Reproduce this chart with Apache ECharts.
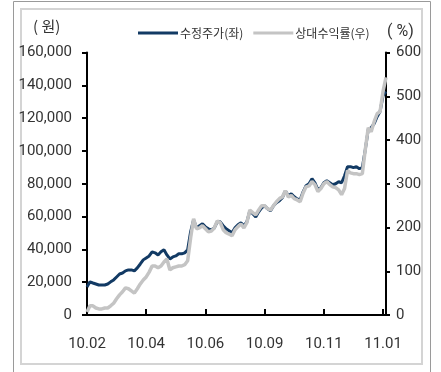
<!DOCTYPE html>
<html>
<head>
<meta charset="utf-8">
<script src="https://cdn.jsdelivr.net/npm/echarts@6/dist/echarts.min.js"></script>
<style>
  html, body { margin: 0; padding: 0; background: #fff; }
  #chart { width: 441px; height: 372px; }
</style>
</head>
<body>
<div id="chart"></div>
<script>
// Tick labels placed every 20 trading-day samples along the category axis
const tickLabels = ['10.02', '10.04', '10.06', '10.09', '10.11', '11.01'];
const tickStep = 20;

// Adjusted share price (KRW), left axis
const priceValues = [
  17100, 20200, 19500, 18900, 18300, 18300, 18300, 18900, 20200, 21400,
  23200, 25000, 25600, 26900, 27500, 27500, 26900, 28700, 31100, 33600,
  34800, 36000, 38500, 37900, 36600, 38500, 39700, 36600, 34200, 35400,
  36000, 37300, 37300, 37900, 39700, 50700, 58000, 53100, 54400, 55600,
  53700, 52500, 51900, 53100, 56800, 56800, 54400, 52500, 51300, 50100,
  53100, 55000, 56200, 54400, 56800, 63500, 61700, 59800, 62900, 65300,
  66600, 64700, 63500, 66600, 68400, 69600, 71500, 75700, 72700, 73900,
  72100, 70800, 70200, 75100, 78800, 80000, 83100, 80600, 76300, 77600,
  80600, 81800, 80600, 79400, 80000, 81200, 80600, 84900, 90400, 90400,
  89800, 90400, 89200, 89800, 100800, 113000, 114200, 116600, 120900, 124000,
  133700, 136200
];

// Relative return (%), right axis
const relativeReturn = [
  7, 21, 21, 16, 14, 14, 16, 16, 21, 27,
  37, 46, 53, 62, 60, 55, 50, 60, 71, 80,
  87, 98, 112, 112, 108, 112, 121, 128, 103, 108,
  110, 112, 112, 115, 124, 176, 220, 197, 199, 204,
  197, 190, 192, 199, 215, 211, 195, 188, 185, 181,
  195, 202, 208, 199, 211, 240, 234, 229, 240, 250,
  250, 243, 240, 250, 259, 266, 270, 284, 270, 273,
  266, 263, 259, 279, 293, 295, 305, 298, 282, 289,
  300, 305, 298, 293, 291, 286, 275, 289, 330, 325,
  323, 323, 321, 323, 378, 428, 419, 442, 460, 465,
  511, 543
];

const seriesNames = ['수정주가(좌)', '상대수익률(우)'];

const categories = priceValues.map((_, i) =>
  i % tickStep === 0 && tickLabels[i / tickStep] ? tickLabels[i / tickStep] : ''
);

const labelFont = '"Liberation Sans Narrow", Roboto, sans-serif';
const textColor = '#333333';

const chart = echarts.init(document.getElementById('chart'), null, { renderer: 'canvas' });

chart.setOption({
  animation: false,
  backgroundColor: '#ffffff',
  graphic: [
    {
      type: 'rect', silent: true,
      shape: { x: 13.5, y: 1.5, width: 417, height: 380 },
      style: { fill: 'none', stroke: '#9a9a9a', lineWidth: 1 }
    },
    {
      type: 'rect', silent: true,
      shape: { x: 21, y: 9, width: 401, height: 355 },
      style: { fill: 'none', stroke: '#d4d4d4', lineWidth: 2 }
    },
    {
      type: 'text', left: 33, top: 19,
      style: { text: '( 원)', font: '15px "Noto Sans CJK KR", sans-serif', fill: textColor }
    },
    {
      type: 'text', left: 387, top: 24,
      style: { text: '( %)', font: '16px ' + labelFont, fill: textColor }
    }
  ],
  legend: {
    left: 133, top: 22,
    itemWidth: 40, itemHeight: 3, itemGap: 10,
    icon: 'rect',
    textStyle: { fontFamily: '"Noto Sans CJK KR", sans-serif', fontSize: 12, color: textColor, padding: [0, 0, 0, -3] },
    data: seriesNames
  },
  grid: { left: 87, right: 55, top: 52.5, bottom: 57, containLabel: false },
  xAxis: {
    type: 'category',
    data: categories,
    boundaryGap: false,
    axisLine: { lineStyle: { color: '#000', width: 2 } },
    axisTick: { interval: tickStep - 1, inside: true, length: 6, lineStyle: { color: '#000', width: 2 } },
    axisLabel: { interval: tickStep - 1, margin: 22, fontFamily: labelFont, fontSize: 15, color: textColor },
    splitLine: { show: false }
  },
  yAxis: [
    {
      type: 'value', min: 0, max: 160000, interval: 20000,
      axisLine: { show: true, lineStyle: { color: '#000', width: 2 } },
      axisTick: { show: true, length: 5, lineStyle: { color: '#000', width: 2 } },
      axisLabel: {
        margin: 15, fontFamily: labelFont, fontSize: 15, color: textColor,
        formatter: v => v.toLocaleString('en-US')
      },
      splitLine: { show: false }
    },
    {
      type: 'value', min: 0, max: 600, interval: 100, position: 'right',
      axisLine: { show: true, lineStyle: { color: '#000', width: 2 } },
      axisTick: { show: true, length: 4, lineStyle: { color: '#000', width: 2 } },
      axisLabel: { margin: 10, fontFamily: labelFont, fontSize: 15, color: textColor },
      splitLine: { show: false }
    }
  ],
  series: [
    {
      name: seriesNames[0], type: 'line', yAxisIndex: 0,
      data: priceValues, showSymbol: false, symbol: 'none',
      lineStyle: { color: '#123a64', width: 3 },
      itemStyle: { color: '#123a64' }
    },
    {
      name: seriesNames[1], type: 'line', yAxisIndex: 1,
      data: relativeReturn, showSymbol: false, symbol: 'none',
      lineStyle: { color: '#c4c4c4', width: 3.5 },
      itemStyle: { color: '#c4c4c4' }
    }
  ]
});
</script>
</body>
</html>
